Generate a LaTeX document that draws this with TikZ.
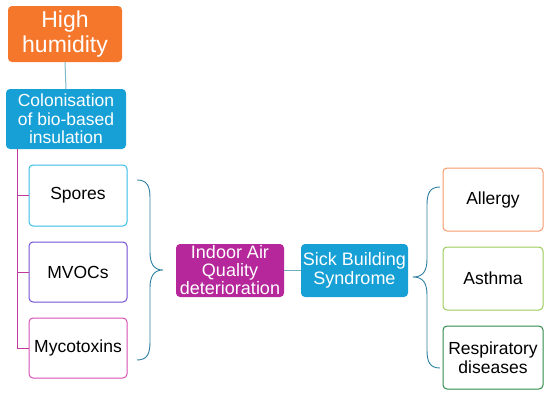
\documentclass[tikz,border=0pt]{standalone}
\usepackage{fontspec}
\setmainfont{Liberation Sans}
\definecolor{orangeF}{HTML}{F5772C}
\definecolor{blueF}{HTML}{16A0D6}
\definecolor{magF}{HTML}{B5279A}
\definecolor{cyanB}{HTML}{35BDE6}
\definecolor{purpB}{HTML}{7450D4}
\definecolor{pinkB}{HTML}{D64FB5}
\definecolor{allB}{HTML}{F79A6B}
\definecolor{astB}{HTML}{9CCB5A}
\definecolor{resB}{HTML}{2E8B4A}
\definecolor{trunkC}{HTML}{C0399E}
\definecolor{linkC}{HTML}{7FB8C8}
\definecolor{braceC}{HTML}{2C7FA0}
\tikzset{
  box/.style={rounded corners=4pt, inner sep=0pt, align=center},
  filled/.style={box, text=white, font=\fontsize{17.5}{18.5}\selectfont},
  outl/.style={box, draw, line width=1pt, fill=white, text=black, font=\fontsize{17.5}{18.5}\selectfont},
  bracestyle/.style={draw=braceC, line width=0.9pt},
}
\begin{document}
\begin{tikzpicture}[x=1pt,y=-1pt]
\useasboundingbox (0,0) rectangle (550,394);
\node[box, text=white, fill=orangeF, minimum width=114, minimum height=56, font=\fontsize{23}{25}\selectfont] (hh) at (65,34) {High\\humidity};
\node[filled, fill=blueF, minimum width=120, minimum height=60] (col) at (66,119) {Colonisation\\of bio-based\\insulation};
\node[outl, draw=cyanB, minimum width=98, minimum height=61] (sp) at (78,195.5) {Spores};
\node[outl, draw=purpB, minimum width=98, minimum height=60] (mv) at (78,272) {MVOCs};
\node[outl, draw=pinkB, minimum width=98, minimum height=60] (my) at (78,348) {Mycotoxins};
\node[box, text=white, fill=magF, minimum width=108, minimum height=53, font=\fontsize{18}{18}\selectfont] (iaq) at (230,270.5) {Indoor Air\\Quality\\deterioration};
\node[box, text=white, fill=blueF, minimum width=107, minimum height=53, font=\fontsize{18}{19}\selectfont] (sbs) at (354.5,270.5) {Sick Building\\Syndrome};
\node[outl, draw=allB, minimum width=100, minimum height=63] (al) at (493,199.5) {Allergy};
\node[outl, draw=astB, minimum width=100, minimum height=63] (as) at (493,278.5) {Asthma};
\node[outl, draw=resB, minimum width=100, minimum height=63] (re) at (493,357.5) {Respiratory\\diseases};
% connectors
\draw[linkC, line width=1pt] (hh.south) -- (col.north);
\coordinate (t0) at (17,149);
\draw[trunkC, line width=1pt] (t0) |- (my.west);
\draw[trunkC, line width=1pt] (t0 |- sp.west) -- (sp.west);
\draw[trunkC, line width=1pt] (t0 |- mv.west) -- (mv.west);
\draw[linkC!80!braceC, line width=1pt] (iaq.east) -- (sbs.west);
% left brace
\coordinate (lbT) at (137,180);
\coordinate (lbM) at (163,270);
\coordinate (lbB) at (137,360);
\draw[bracestyle] (lbT) .. controls (147,180) and (150,186) .. (150,198) -- (150,252) .. controls (150,264) and (154,270) .. (lbM) .. controls (154,270) and (150,276) .. (150,288) -- (150,342) .. controls (150,354) and (147,360) .. (lbB);
% right brace
\coordinate (rbT) at (440,187);
\coordinate (rbM) at (413,277);
\coordinate (rbB) at (440,368);
\draw[bracestyle] (rbT) .. controls (430,187) and (427,193) .. (427,205) -- (427,259) .. controls (427,271) and (423,277) .. (rbM) .. controls (423,277) and (427,283) .. (427,295) -- (427,350) .. controls (427,362) and (430,368) .. (rbB);
\end{tikzpicture}
\end{document}
